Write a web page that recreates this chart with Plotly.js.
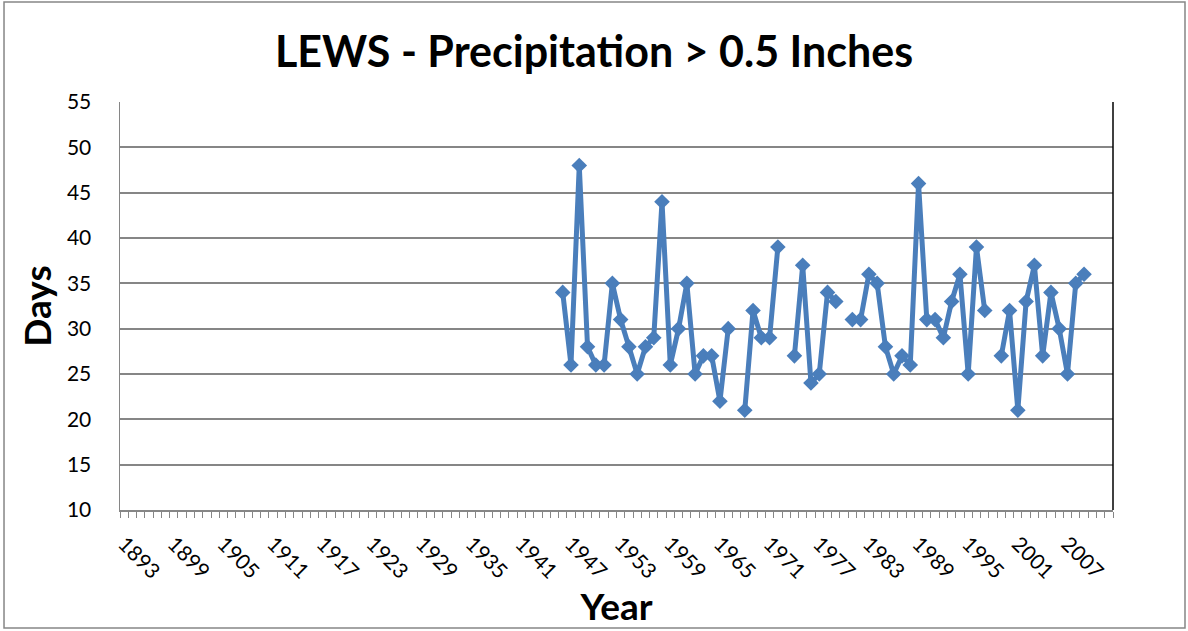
<!DOCTYPE html>
<html>
<head>
<meta charset="utf-8">
<script src="https://cdn.plot.ly/plotly-3.0.1.min.js"></script>
<style>html,body{margin:0;padding:0;background:#fff;}#chart{width:1188px;height:631px;}</style>
</head>
<body>
<div id="chart"></div>
<script>
const years = [1946,1947,1948,1949,1950,1951,1952,1953,1954,1955,1956,1957,1958,1959,1960,1961,1962,1963,1964,1965,1966,1967,1968,1969,1970,1971,1972,1973,1974,1975,1976,1977,1978,1979,1980,1981,1982,1983,1984,1985,1986,1987,1988,1989,1990,1991,1992,1993,1994,1995,1996,1997,1998,1999,2000,2001,2002,2003,2004,2005,2006,2007,2008,2009];
const days = [34,26,48,28,26,26,35,31,28,25,28,29,44,26,30,35,25,27,27,22,30,null,21,32,29,29,39,null,27,37,24,25,34,33,null,31,31,36,35,28,25,27,26,46,31,31,29,33,36,25,39,32,null,27,32,21,33,37,27,34,30,25,35,36];
const tickYears = [1893,1899,1905,1911,1917,1923,1929,1935,1941,1947,1953,1959,1965,1971,1977,1983,1989,1995,2001,2007];
const yTicks = [10,15,20,25,30,35,40,45,50,55];

const trace = {
  x: years, y: days, type: 'scatter', mode: 'lines+markers',
  line: {color: '#4A7EBB', width: 5},
  marker: {symbol: 'diamond', size: 12, color: '#4A7EBB'},
  connectgaps: false, hoverinfo: 'x+y'
};
const font = 'Lato, "Liberation Sans", sans-serif';
const layout = {
  width: 1188, height: 631,
  margin: {l: 120, r: 75, t: 102, b: 121},
  paper_bgcolor: '#fff', plot_bgcolor: '#fff',
  showlegend: false,
  font: {family: font, color: '#000'},
  title: {text: '<b>LEWS - Precipitation > 0.5 Inches</b>', font: {family: font, size: 43, color: '#000'}, x: 0.5, xanchor: 'center', y: 0.918, yanchor: 'middle'},
  xaxis: {
    range: [1892.5, 2012.5], tickmode: 'array', tickvals: tickYears, ticktext: tickYears.map(String),
    tickangle: 45, ticks: '', ticklabelstandoff: 12, tickfont: {family: font, size: 21, color: '#000'},
    showgrid: false, zeroline: false, showline: true, linecolor: '#868686', linewidth: 1.5,
    minor: {tick0: 1892.5, dtick: 1, ticks: 'outside', ticklen: 6, tickcolor: '#868686', tickwidth: 1, showgrid: false},
    title: {text: '<b>Year</b>', font: {family: font, size: 37, color: '#000'}, standoff: 0}
  },
  yaxis: {
    range: [10, 55], tickmode: 'array', tickvals: yTicks, ticks: '', ticklabelstandoff: 23,
    tickfont: {family: font, size: 21, color: '#000'},
    showgrid: true, gridcolor: '#868686', gridwidth: 1.8, zeroline: false,
    showline: true, linecolor: '#868686', linewidth: 1.5,
    title: {text: '<b>Days</b>', font: {family: font, size: 37, color: '#000'}, standoff: 4}
  },
  shapes: [
    {type: 'line', xref: 'paper', yref: 'paper', x0: 1, x1: 1, y0: 0, y1: 1, line: {color: '#000', width: 1.5}},
    {type: 'rect', xref: 'paper', yref: 'paper', x0: -0.1168, x1: 1.0725, y0: -0.289, y1: 1.245, line: {color: '#868686', width: 1.5}}
  ]
};
Plotly.newPlot('chart', [trace], layout, {displayModeBar: false, staticPlot: true});
</script>
</body>
</html>
